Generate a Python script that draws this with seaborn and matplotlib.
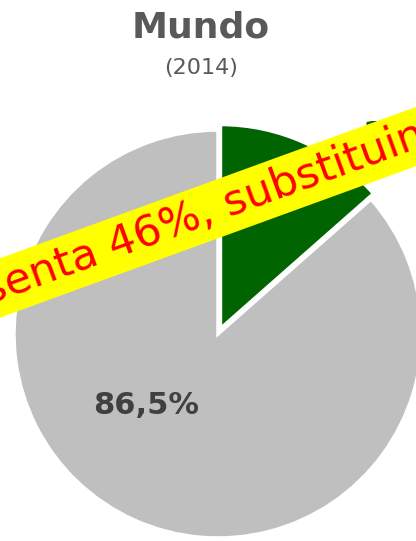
import matplotlib
matplotlib.use("Agg")
import seaborn as sns
import matplotlib.pyplot as plt


# DATA

slices = ["Brasil", "Resto do mundo"]
shares = [13.5, 86.5]
slice_colors = ["#006400", "#BFBFBF"]
title = "Mundo"
subtitle = "(2014)"
banner = "apresenta 46%, substituindo"


# PLOT

sns.set_style("white")
plt.rcParams["font.family"] = ["DejaVu Sans"]

fig = plt.figure(figsize=(4.16, 5.41), dpi=100)
ax = fig.add_axes([0, 0, 1, 1])

ax.pie(
    shares,
    colors=slice_colors,
    startangle=90,
    counterclock=False,
    center=(218, 207),
    radius=204,
    explode=[6, 0],
    wedgeprops={"edgecolor": "white", "linewidth": 2.5},
    frame=True,
)
ax.set_xlim(0, 416)
ax.set_ylim(0, 541)
ax.set_aspect("equal")
ax.axis("off")

fmt = lambda v: f"{v:.1f}%".replace(".", ",")

# slice labels
ax.text(146, 135, fmt(shares[1]), ha="center", va="center",
        fontsize=22, fontweight="bold", color="#404040")
ax.text(362, 421, fmt(shares[0]), ha="left", va="top",
        fontsize=22, fontweight="bold", color=slice_colors[0], clip_on=False)

fig.text(0.483, 1 - 28 / 541, title, ha="center", va="center",
         fontsize=26, fontweight="bold", color="#595959")
fig.text(0.484, 1 - 68 / 541, subtitle, ha="center", va="center",
         fontsize=16, color="#595959")

# banner overlay
fig.text(184 / 416, (541 - 221) / 541, banner, ha="center", va="center",
         rotation=20, rotation_mode="anchor", fontsize=31, color="red",
         bbox={"boxstyle": "square,pad=0.16", "facecolor": "yellow",
               "edgecolor": "none"}, zorder=10)

fig.savefig("out.png", dpi=100)
